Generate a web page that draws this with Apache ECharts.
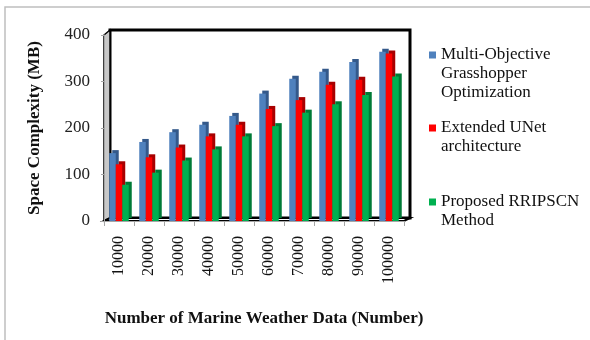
<!DOCTYPE html>
<html>
<head>
<meta charset="utf-8">
<script src="https://cdn.jsdelivr.net/npm/echarts@6/dist/echarts.min.js"></script>
<style>
  html, body { margin: 0; padding: 0; background: #fff; }
  #chart { width: 590px; height: 340px; }
</style>
</head>
<body>
<div id="chart"></div>
<script>
// Categories: dataset sizes
const categories = ['10000', '20000', '30000', '40000', '50000', '60000', '70000', '80000', '90000', '100000'];

// Memory use in MB for each method
const mogoValues = [146, 170, 191, 207, 226, 274, 306, 321, 342, 364];
const unetValues = [122, 137, 158, 182, 207, 241, 260, 293, 304, 360];
const rripscnValues = [78, 104, 130, 154, 182, 204, 233, 251, 271, 311];

const seriesNames = ['Multi-Objective\nGrasshopper\nOptimization', 'Extended UNet\narchitecture', 'Proposed RRIPSCN\nMethod'];
const yTicks = [0, 100, 200, 300, 400];

const serif = '"Liberation Serif", "Times New Roman", serif';

// plot box
const G = { left: 104, top: 35, width: 300, height: 186 };
const gBottom = G.top + G.height;
const depthX = 6, depthY = 5;

const chart = echarts.init(document.getElementById('chart'), null, { renderer: 'canvas' });

function bar(name, data, color, side) {
  return {
    name: name,
    type: 'bar',
    data: data,
    barGap: '0%',
    barCategoryGap: '35%',
    itemStyle: {
      color: color,
      shadowColor: side,
      shadowBlur: 0,
      shadowOffsetX: 3,
      shadowOffsetY: -3
    }
  };
}

// one legend per entry; leading blank lines put the swatch beside the first text line
const LH = 19;
function legendEntry(name, centerY) {
  const lines = name.split('\n').length;
  const pad = '\n'.repeat(lines - 1);
  return {
    data: [name],
    orient: 'vertical',
    left: 429,
    top: centerY - (lines * 2 - 1) * LH / 2,
    padding: 0,
    icon: 'rect',
    itemWidth: 7,
    itemHeight: 7,
    selectedMode: false,
    formatter: n => pad + n,
    textStyle: { fontFamily: serif, fontSize: 17, color: '#111', lineHeight: LH }
  };
}

const option = {
  animation: false,
  backgroundColor: '#fff',
  color: ['#4F81BD', '#FF0000', '#00B050'],
  grid: { left: G.left, top: G.top, width: G.width, height: G.height, containLabel: false },
  legend: [
    legendEntry(seriesNames[0], 55),
    legendEntry(seriesNames[1], 128),
    legendEntry(seriesNames[2], 202)
  ],
  xAxis: {
    type: 'category',
    data: categories,
    name: 'Number of Marine Weather Data (Number)',
    nameLocation: 'middle',
    nameGap: 89,
    nameTextStyle: { fontFamily: serif, fontSize: 17, fontWeight: 'bold', color: '#111', padding: [0, 0, 0, 20] },
    axisLine: { show: true, lineStyle: { color: '#a6a6a6', width: 1 } },
    axisTick: { show: true, length: 5, lineStyle: { color: '#a6a6a6' } },
    axisLabel: { rotate: 90, margin: 15, fontFamily: serif, fontSize: 16, color: '#111' },
    z: 1
  },
  yAxis: {
    type: 'value',
    min: yTicks[0],
    max: yTicks[yTicks.length - 1],
    interval: 100,
    name: 'Space Complexity (MB)',
    nameLocation: 'middle',
    nameGap: 61,
    nameTextStyle: { fontFamily: serif, fontSize: 17, fontWeight: 'bold', color: '#111' },
    axisLine: { show: true, lineStyle: { color: '#a6a6a6' } },
    axisTick: { show: true, length: 3, lineStyle: { color: '#a6a6a6' } },
    splitLine: { show: false },
    axisLabel: { margin: 14, fontFamily: serif, fontSize: 17, color: '#222' }
  },
  graphic: [
    // outer frame
    { type: 'rect', shape: { x: 5, y: 7, width: 700, height: 500 },
      style: { fill: 'none', stroke: '#bfbfbf', lineWidth: 1.5 }, z: -10, silent: true },
    // back wall
    { type: 'rect', shape: { x: G.left + depthX, y: G.top - depthY, width: G.width, height: G.height + depthY - 3 },
      style: { fill: '#fff', stroke: '#000', lineWidth: 3 }, z: -5, silent: true },
    // left side wall
    { type: 'polygon', shape: { points: [[G.left, gBottom], [G.left, G.top], [G.left + depthX, G.top - depthY], [G.left + depthX, gBottom - 3]] },
      style: { fill: '#c8c8c8', stroke: '#000', lineWidth: 1.5 }, z: -4, silent: true },
    // floor
    { type: 'polygon', shape: { points: [[G.left, gBottom], [G.left + depthX, gBottom - 3], [G.left + G.width + depthX, gBottom - 3], [G.left + G.width, gBottom]] },
      style: { fill: '#fff', stroke: '#000', lineWidth: 2 }, z: -4, silent: true }
  ],
  series: [
    bar(seriesNames[0], mogoValues, '#4F81BD', '#34598a'),
    bar(seriesNames[1], unetValues, '#FF0000', '#a80000'),
    bar(seriesNames[2], rripscnValues, '#00B050', '#007a36')
  ]
};

chart.setOption(option);
</script>
</body>
</html>
